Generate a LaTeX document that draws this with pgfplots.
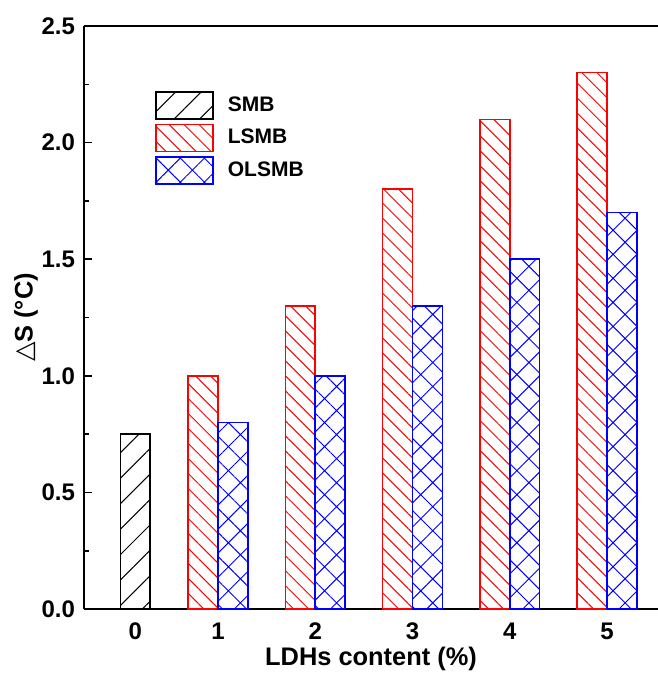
\documentclass[border=0pt]{standalone}
\usepackage{fontspec}
\setmainfont{Liberation Sans}
\newfontfamily\djv{DejaVu Sans}
\usepackage{pgfplots}
\pgfplotsset{compat=1.18}
\usetikzlibrary{patterns.meta}
\pgfplotsset{
  mylegend/.style={legend image code/.code={\draw[##1, line width=0.75pt] (0pt,-6.75pt) rectangle (28.5pt,6.75pt);}}
}
\begin{document}
\begin{tikzpicture}
\begin{axis}[name=ax, scale only axis, width=287pt, height=291.5pt,
  xmin=-0.377, xmax=5.524, ymin=0, ymax=2.5,
  axis x line*=bottom, axis y line*=left,
  axis line style={-, line width=1pt},
  ytick={0,0.5,1,1.5,2,2.5}, minor y tick num=1, tick align=inside,
  major tick length=4pt, minor tick length=2.5pt,
  every tick/.style={line width=0.8pt, black},
  xtick={0.15,1,2,3,4,5}, xticklabels={0,1,2,3,4,5},
  x tick style={draw=none},
  /pgf/number format/assume math mode=true,
  ticklabel style={font=\bfseries\fontsize{12}{14}\selectfont},
  xticklabel style={yshift=-3.5pt},
  yticklabel style={/pgf/number format/fixed, /pgf/number format/fixed zerofill, /pgf/number format/precision=1, xshift=-1pt},
  xlabel={LDHs content (\%)}, ylabel={{\djv\mdseries △}S (°C)},
  label style={font=\bfseries\fontsize{12.7}{15}\selectfont},
  xlabel style={at={(axis description cs:0.5,0)}, anchor=center, yshift=-25pt},
  ylabel style={at={(axis description cs:-0.101,0.5)}, anchor=center},
  legend style={draw=none, fill=none, at={(rel axis cs:0.1237,0.8885)}, anchor=north west,
    inner sep=0pt, row sep=2pt, nodes={inner sep=0pt},
    font=\bfseries\fontsize{10.5}{12}\selectfont,
    /tikz/every odd column/.append style={column sep=7pt}},
  legend cell align=left,
]
\addplot[ybar, bar width=0.308, bar shift=0, draw=black, line width=0.75pt,
  pattern={Lines[angle=45,distance=9pt,line width=0.5pt]}, pattern color=black, mylegend]
  coordinates {(0.15,0.75)};
\addlegendentry{SMB}
\addplot[ybar, bar width=0.308, bar shift=-0.154, draw=red, line width=0.75pt,
  pattern={Lines[angle=-45,distance=5.3pt,line width=0.5pt]}, pattern color=red, mylegend]
  coordinates {(1,1.0) (2,1.3) (3,1.8) (4,2.1) (5,2.3)};
\addlegendentry{LSMB}
\addplot[ybar, bar width=0.308, bar shift=0.154, draw=blue, line width=0.75pt,
  pattern={Hatch[angle=45,distance=8.5pt,line width=0.5pt]}, pattern color=blue, mylegend]
  coordinates {(1,0.8) (2,1.0) (3,1.3) (4,1.5) (5,1.7)};
\addlegendentry{OLSMB}
\end{axis}
\draw[line width=1pt] (ax.north west) -- (ax.north east);
\pgfresetboundingbox
\path[use as bounding box] ([xshift=-42pt,yshift=-33pt]ax.south west) rectangle ([yshift=13pt]ax.north east);
\end{tikzpicture}
\end{document}
